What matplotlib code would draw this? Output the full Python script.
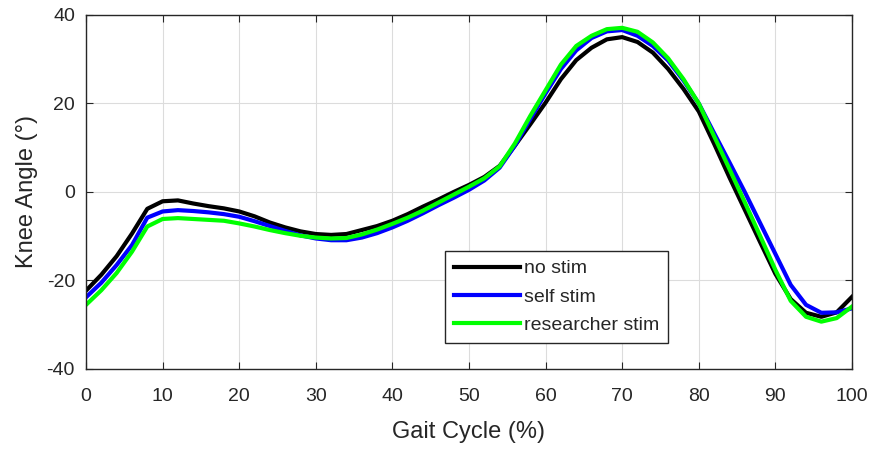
import matplotlib.pyplot as plt

plt.rcParams['font.family'] = ['Liberation Sans', 'DejaVu Sans']
plt.rcParams['axes.unicode_minus'] = False

# gait cycle samples (%)
gait = list(range(0, 101, 2))

no_stim = [-22.3, -18.7, -14.5, -9.4, -3.8, -2.1, -1.9, -2.6, -3.2, -3.7,
           -4.4, -5.5, -6.9, -8.0, -8.9, -9.5, -9.7, -9.5, -8.6, -7.7,
           -6.5, -5.0, -3.3, -1.7, 0.0, 1.6, 3.4, 5.9, 10.5, 15.3,
           20.2, 25.5, 29.8, 32.6, 34.5, 35.0, 33.9, 31.5, 27.8, 23.3,
           18.2, 10.9, 3.3, -4.0, -11.3, -18.5, -24.2, -27.3, -28.2, -27.2,
           -23.7]

self_stim = [-23.8, -20.5, -16.5, -12.0, -5.8, -4.4, -4.1, -4.3, -4.6, -5.0,
             -5.6, -6.6, -7.7, -8.8, -9.8, -10.5, -10.9, -10.9, -10.3, -9.3,
             -8.0, -6.5, -4.8, -3.0, -1.3, 0.5, 2.6, 5.5, 10.5, 16.5,
             22.3, 27.8, 32.0, 34.8, 36.3, 36.6, 35.3, 33.0, 29.7, 25.2,
             20.0, 13.3, 6.7, 0.0, -7.0, -14.0, -21.0, -25.5, -27.3, -27.2,
             -26.3]

researcher_stim = [-25.5, -22.2, -18.3, -13.5, -7.8, -6.1, -5.9, -6.1, -6.3, -6.5,
                   -7.1, -7.8, -8.6, -9.3, -9.9, -10.3, -10.5, -10.4, -9.6, -8.5,
                   -7.2, -5.8, -4.2, -2.4, -0.6, 1.2, 3.1, 5.8, 11.0, 17.2,
                   23.0, 28.8, 33.0, 35.3, 36.8, 37.1, 36.2, 33.8, 30.2, 25.5,
                   20.0, 12.6, 5.2, -2.3, -9.9, -17.6, -24.6, -28.2, -29.3, -28.5,
                   -25.9]

dark = '#262626'

fig = plt.figure(figsize=(8.75, 4.49), dpi=100)
ax = fig.add_axes([0.0983, 0.1782, 0.8754, 0.7884])

ax.plot(gait, no_stim, color='black', lw=3, label='no stim')
ax.plot(gait, self_stim, color='#0000ff', lw=3, label='self stim')
ax.plot(gait, researcher_stim, color='#00ff00', lw=3, label='researcher stim')

ax.set_xlim(0, 100)
ax.set_ylim(-40, 40)
ax.set_xticks(range(0, 101, 10))
ax.set_yticks(range(-40, 41, 20))
ax.grid(True, color='#dcdcdc', lw=0.8)
ax.tick_params(direction='in', top=True, right=True, length=5, colors=dark,
               labelsize=14, labelcolor=dark, pad=8)
ax.tick_params(axis='x', pad=14)
for s in ax.spines.values():
    s.set_color(dark)
    s.set_linewidth(1.0)

ax.set_xlabel('Gait Cycle (%)', fontsize=17, color=dark, labelpad=11)
ax.set_ylabel('Knee Angle (°)', fontsize=17, color=dark, labelpad=6)

leg = ax.legend(loc='upper left', bbox_to_anchor=(0.4687, 0.3333),
                fontsize=14, handlelength=3.4, handletextpad=0.2,
                borderpad=0.45, labelspacing=0.55, fancybox=False, framealpha=1,
                borderaxespad=0)
leg.get_frame().set_edgecolor(dark)
leg.get_frame().set_linewidth(1.0)
for t in leg.get_texts():
    t.set_color(dark)

fig.savefig('out.png', dpi=100)
